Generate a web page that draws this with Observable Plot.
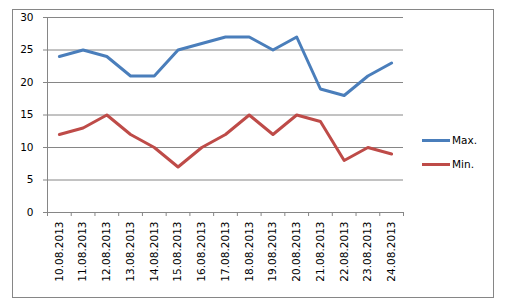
<!DOCTYPE html>
<html>
<head>
<meta charset="utf-8">
<script src="https://cdn.jsdelivr.net/npm/d3@7"></script>
<script src="https://cdn.jsdelivr.net/npm/@observablehq/plot@0.6"></script>
<style>
  html, body { margin: 0; padding: 0; background: #fff; }
  #wrap { position: relative; width: 506px; height: 301px; overflow: hidden; font-family: "DejaVu Sans", sans-serif; }
  #border { position: absolute; left: 12px; top: 9px; width: 480px; height: 287px; border: 1px solid #868686; box-sizing: content-box; }
  #chart { position: absolute; left: 0; top: 0; }
  #legend { position: absolute; left: 422px; top: 134px; font-size: 10.5px; color: #000; }
  .item { display: flex; align-items: center; height: 12px; margin-bottom: 12px; }
  .sw { width: 28px; height: 3px; margin-right: 2px; }
</style>
</head>
<body>
<div id="wrap">
  <div id="border"></div>
  <div id="chart"></div>
  <div id="legend"></div>
</div>
<script>
const dates = ["10.08.2013","11.08.2013","12.08.2013","13.08.2013","14.08.2013","15.08.2013","16.08.2013","17.08.2013","18.08.2013","19.08.2013","20.08.2013","21.08.2013","22.08.2013","23.08.2013","24.08.2013"];
const maxValues = [24,25,24,21,21,25,26,27,27,25,27,19,18,21,23];
const minValues = [12,13,15,12,10,7,10,12,15,12,15,14,8,10,9];
const seriesNames = ["Max.", "Min."];
const seriesColors = ["#4A7EBB", "#BE4B48"];
const yTicks = [0,5,10,15,20,25,30];

const idx = dates.map((d, i) => i);
const boundaries = d3.range(-0.5, dates.length, 1);
const maxData = idx.map(i => ({i, v: maxValues[i]}));
const minData = idx.map(i => ({i, v: minValues[i]}));
const xDomain = [-0.5, dates.length - 0.5];

const chart = Plot.plot({
  width: 506,
  height: 301,
  marginLeft: 47,
  marginRight: 103,
  marginTop: 17,
  marginBottom: 89,
  style: { fontFamily: "DejaVu Sans, sans-serif", fontSize: "10px", color: "#000", background: "transparent" },
  x: { type: "linear", domain: xDomain },
  y: { domain: [0, 30] },
  marks: [
    Plot.gridY(yTicks, { stroke: "#868686", strokeOpacity: 1 }),
    Plot.ruleX([xDomain[0]], { stroke: "#868686" }),
    Plot.ruleY([0], { stroke: "#868686" }),
    Plot.axisY(yTicks, { tickSize: 4, tickPadding: 10, stroke: "#868686", label: null, fill: "#000", fontSize: 10.5 }),
    Plot.axisX(boundaries, { tickSize: 4, tickFormat: () => "", stroke: "#868686", label: null }),
    Plot.axisX(idx, { tickSize: 0, tickPadding: 9, tickRotate: -90, tickFormat: i => dates[i], label: null, fill: "#000", fontSize: 10.5 }),
    Plot.line(maxData, { x: "i", y: "v", stroke: seriesColors[0], strokeWidth: 3, strokeLinejoin: "round" }),
    Plot.line(minData, { x: "i", y: "v", stroke: seriesColors[1], strokeWidth: 3, strokeLinejoin: "round" })
  ]
});
document.getElementById("chart").appendChild(chart);

const legend = document.getElementById("legend");
seriesNames.forEach((name, k) => {
  const it = document.createElement("div");
  it.className = "item";
  const sw = document.createElement("div");
  sw.className = "sw";
  sw.style.background = seriesColors[k];
  const tx = document.createElement("span");
  tx.textContent = name;
  it.appendChild(sw); it.appendChild(tx);
  legend.appendChild(it);
});
</script>
</body>
</html>
